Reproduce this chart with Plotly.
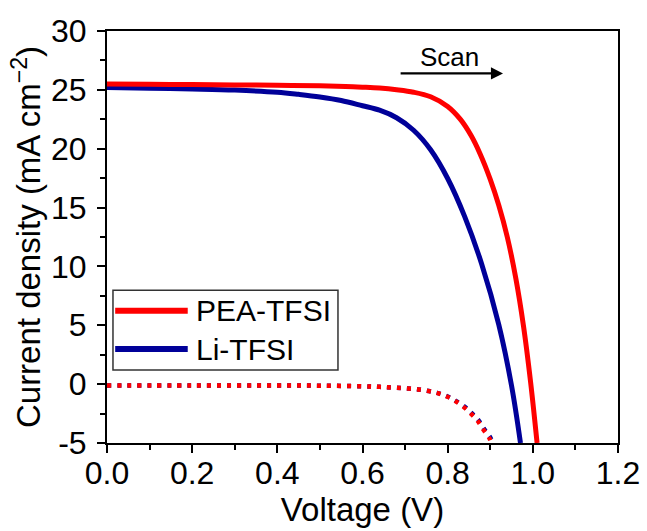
import plotly.graph_objects as go

# ---- data ----
v_pea = [0.00, 0.10, 0.20, 0.30, 0.40, 0.50, 0.56, 0.60, 0.64, 0.68, 0.72, 0.76, 0.80, 0.83, 0.855, 0.876, 0.90, 0.92, 0.94, 0.96, 0.978, 0.995, 1.010]
j_pea = [25.5, 25.48, 25.45, 25.42, 25.39, 25.34, 25.29, 25.23, 25.15, 25.01, 24.80, 24.41, 23.59, 22.49, 21.12, 19.58, 17.4, 15.2, 12.5, 9.0, 4.95, 0.1, -5.0]

v_li = [0.00, 0.10, 0.20, 0.30, 0.40, 0.45, 0.50, 0.55, 0.60, 0.64, 0.68, 0.72, 0.76, 0.80, 0.84, 0.88, 0.92, 0.95, 0.971]
j_li = [25.2, 25.14, 25.07, 24.98, 24.8, 24.62, 24.4, 24.1, 23.65, 23.27, 22.63, 21.57, 19.91, 17.47, 14.23, 10.19, 5.05, -0.13, -5.0]

v_dark_pea = [0.00, 0.20, 0.40, 0.50, 0.60, 0.64, 0.68, 0.73, 0.774, 0.798, 0.817, 0.837, 0.854, 0.870, 0.884, 0.898, 0.902]
j_dark_pea = [-0.12, -0.12, -0.12, -0.13, -0.18, -0.23, -0.31, -0.45, -0.74, -1.05, -1.42, -1.92, -2.49, -3.1, -3.87, -4.6, -5.0]

v_dark_li = [0.00, 0.20, 0.40, 0.50, 0.60, 0.64, 0.68, 0.73, 0.775, 0.80, 0.819, 0.84, 0.857, 0.873, 0.887, 0.901, 0.905]
j_dark_li = [-0.12, -0.12, -0.12, -0.13, -0.18, -0.23, -0.31, -0.45, -0.74, -1.05, -1.42, -1.92, -2.49, -3.1, -3.87, -4.6, -5.0]

x_ticks = [0.0, 0.2, 0.4, 0.6, 0.8, 1.0, 1.2]
x_ticktext = ["0.0", "0.2", "0.4", "0.6", "0.8", "1.0", "1.2"]
y_ticks = [-5, 0, 5, 10, 15, 20, 25, 30]
y_ticktext = ["-5", "0", "5", "10", "15", "20", "25", "30"]

series_names = ["PEA-TFSI", "Li-TFSI"]
RED = "#ff0000"
BLUE = "#000099"
FONT = "Arial, Liberation Sans, sans-serif"

fig = go.Figure()
fig.add_trace(go.Scatter(x=v_dark_li, y=j_dark_li, mode="lines",
                         line=dict(color=BLUE, width=4.5, dash="4px,6px", shape="spline", smoothing=1.0), showlegend=False))
fig.add_trace(go.Scatter(x=v_dark_pea, y=j_dark_pea, mode="lines",
                         line=dict(color=RED, width=4.5, dash="4px,6px", shape="spline", smoothing=1.0), showlegend=False))
fig.add_trace(go.Scatter(x=v_li, y=j_li, mode="lines",
                         line=dict(color=BLUE, width=5, shape="spline", smoothing=1.0), name=series_names[1], showlegend=False))
fig.add_trace(go.Scatter(x=v_pea, y=j_pea, mode="lines",
                         line=dict(color=RED, width=5, shape="spline", smoothing=1.0), name=series_names[0], showlegend=False))

axis_common = dict(
    showline=True, linecolor="black", linewidth=2, mirror=True,
    ticks="outside", ticklen=8, tickwidth=2, tickcolor="black",
    showgrid=False, zeroline=False, automargin=False,
    tickfont=dict(family=FONT, size=32, color="black"),
)
fig.update_xaxes(range=[0, 1.2], tickvals=x_ticks, ticktext=x_ticktext, ticklabelstandoff=-7,
                 minor=dict(dtick=0.1, ticks="outside", ticklen=5, tickwidth=2, tickcolor="black"),
                 title=dict(text="Voltage (V)", font=dict(family=FONT, size=33, color="black"), standoff=0),
                 **axis_common)
fig.update_yaxes(range=[-5, 30], tickvals=y_ticks, ticktext=y_ticktext, ticklabelstandoff=4,
                 minor=dict(dtick=2.5, ticks="outside", ticklen=5, tickwidth=2, tickcolor="black"),
                 title=dict(text="Current density (mA cm<sup>−2</sup>)", font=dict(family=FONT, size=33, color="black"), standoff=0),
                 **axis_common)

# manual legend (paper coords)
fig.add_shape(type="rect", xref="paper", yref="paper", x0=0.0117, x1=0.452, y0=0.177, y1=0.371,
              line=dict(color="#333333", width=1.5), fillcolor="white", layer="above")
legend_y = [0.321, 0.228]
legend_col = [RED, BLUE]
for name, yy, col in zip(series_names, legend_y, legend_col):
    fig.add_shape(type="line", xref="paper", yref="paper", x0=0.016, x1=0.158, y0=yy, y1=yy,
                  line=dict(color=col, width=6), layer="above")
    fig.add_annotation(xref="paper", yref="paper", x=0.170, y=yy, text=name, showarrow=False,
                       xanchor="left", yanchor="middle", font=dict(family=FONT, size=30, color="black"))

# Scan arrow
fig.add_annotation(x=0.930, y=26.4, ax=0.686, ay=26.4, xref="x", yref="y", axref="x", ayref="y",
                   text="", showarrow=True, arrowhead=2, arrowsize=1.1, arrowwidth=2.2, arrowcolor="black")
fig.add_annotation(x=0.805, y=27.8, xref="x", yref="y", text="Scan", showarrow=False,
                   font=dict(family=FONT, size=26, color="black"))

fig.update_layout(width=647, height=531, margin=dict(l=107, r=29, t=31, b=88),
                  plot_bgcolor="white", paper_bgcolor="white")

fig.write_html("out.html")
